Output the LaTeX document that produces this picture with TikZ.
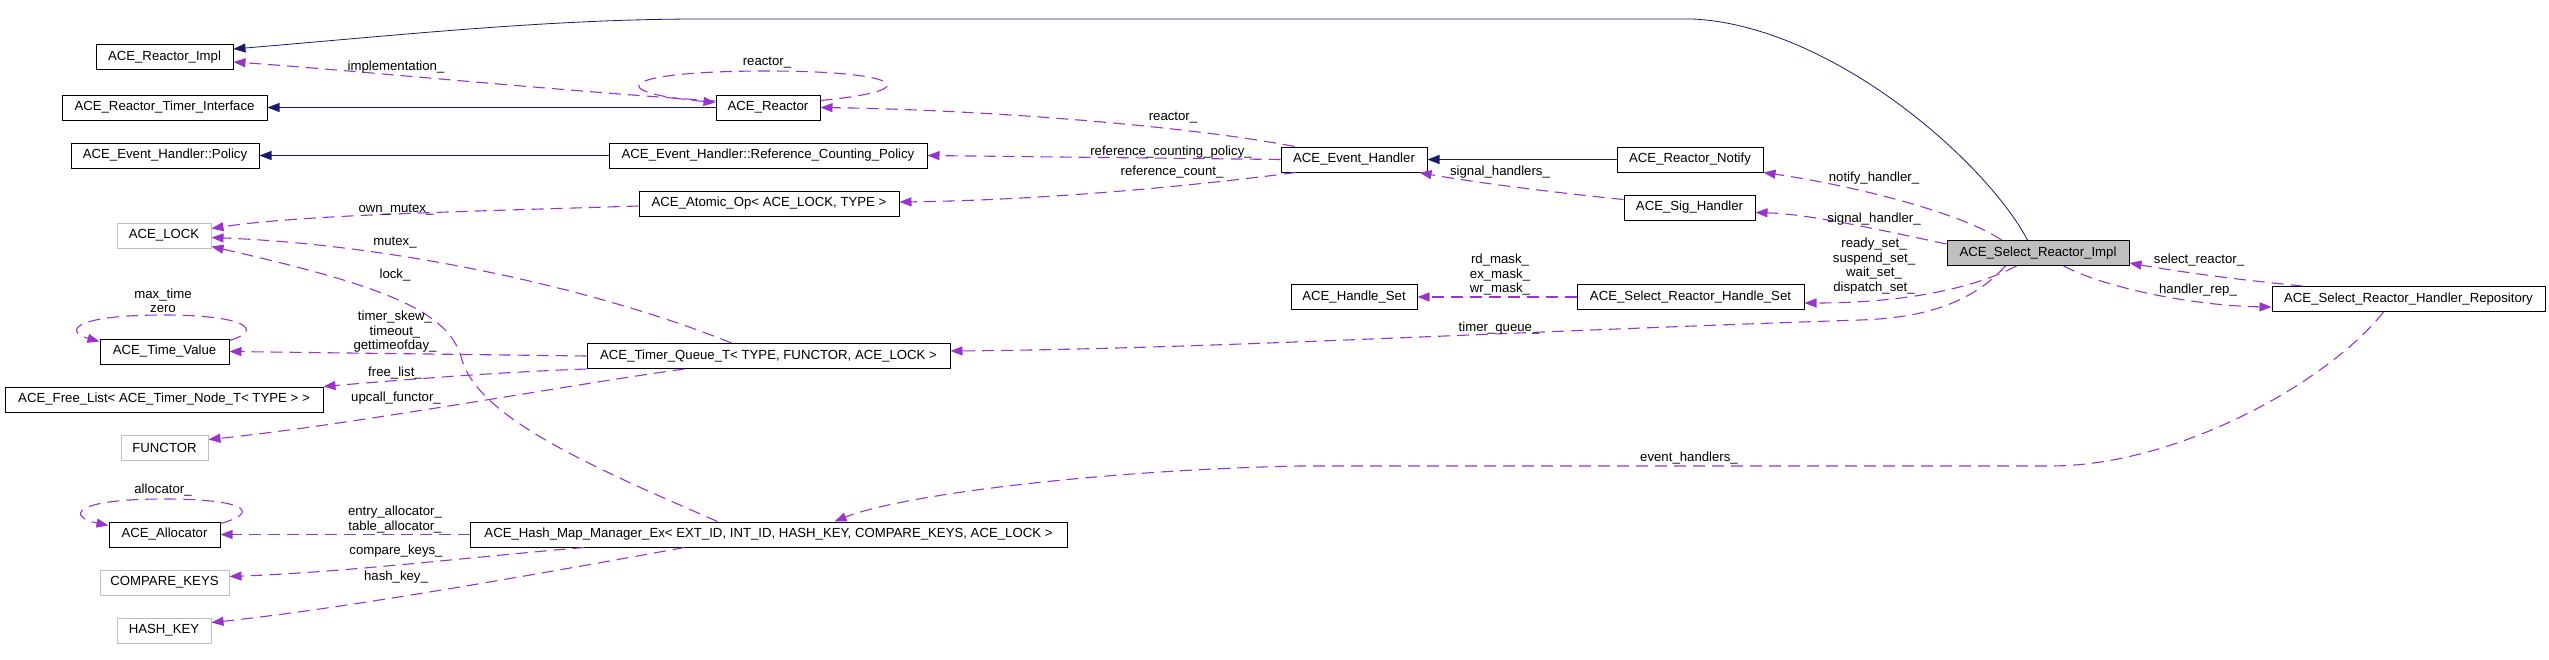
\documentclass[tikz,border=0pt]{standalone}
\usepackage{fontspec}
\setmainfont{Liberation Sans}
\usetikzlibrary{arrows.meta,calc}
\definecolor{depcol}{HTML}{9A32CD}
\definecolor{inhcol}{HTML}{191970}
\definecolor{gboxcol}{HTML}{BFBFBF}
\begin{document}
\begin{tikzpicture}[x=1pt,y=-1pt,font=\fontsize{13.2}{14.5}\selectfont,
  cls/.style={draw=black,line width=1pt,minimum height=25pt,inner sep=0pt},
  gcls/.style={cls,draw=gboxcol},
  lbl/.style={inner sep=0pt,align=center},
  depedge/.style={draw=depcol,line width=1.1pt,dash pattern=on 12pt off 7pt,-{Triangle[length=12pt,width=9pt]}},
  inhedge/.style={draw=inhcol,line width=1.1pt,-{Triangle[length=12pt,width=9pt]}}]
\useasboundingbox[fill=white] (0,0) rectangle (2549,659);
% classes
\node[cls,minimum width=137pt] (reactorimpl) at (164.5,57) {ACE\_Reactor\_Impl};
\node[cls,minimum width=205pt] (timerif) at (164.5,107.5) {ACE\_Reactor\_Timer\_Interface};
\node[cls,minimum width=188pt] (policy) at (165,155.5) {ACE\_Event\_Handler::Policy};
\node[cls,minimum width=104pt] (reactor) at (768,107.5) {ACE\_Reactor};
\node[cls,minimum width=318pt] (rcp) at (768,155.5) {ACE\_Event\_Handler::Reference\_Counting\_Policy};
\node[cls,minimum width=260pt] (atomic) at (769,203.5) {ACE\_Atomic\_Op\textless{} ACE\_LOCK, TYPE \textgreater{}};
\node[cls,minimum width=146pt] (evh) at (1354,159.5) {ACE\_Event\_Handler};
\node[cls,minimum width=146pt] (notify) at (1690,159.5) {ACE\_Reactor\_Notify};
\node[cls,minimum width=131pt] (sig) at (1689.5,207.5) {ACE\_Sig\_Handler};
\node[gcls,minimum width=94pt] (lock) at (164,235.5) {ACE\_LOCK};
\node[cls,minimum width=129pt] (timevalue) at (164.5,351.5) {ACE\_Time\_Value};
\node[cls,minimum width=363pt] (tq) at (768.5,356) {ACE\_Timer\_Queue\_T\textless{} TYPE, FUNCTOR, ACE\_LOCK \textgreater{}};
\node[cls,minimum width=318pt] (freelist) at (164,399.5) {ACE\_Free\_List\textless{} ACE\_Timer\_Node\_T\textless{} TYPE \textgreater{} \textgreater{}};
\node[gcls,minimum width=87pt] (functor) at (164.5,447.5) {FUNCTOR};
\node[cls,minimum width=111pt] (allocator) at (164.5,534.5) {ACE\_Allocator};
\node[cls,minimum width=597pt] (hashmap) at (768.5,534.5) {ACE\_Hash\_Map\_Manager\_Ex\textless{} EXT\_ID, INT\_ID, HASH\_KEY, COMPARE\_KEYS, ACE\_LOCK \textgreater{}};
\node[gcls,minimum width=129pt] (compare) at (164.5,582.5) {COMPARE\_KEYS};
\node[gcls,minimum width=94pt] (hashkey) at (164,630.5) {HASH\_KEY};
\node[cls,minimum width=126pt] (handleset) at (1354,297) {ACE\_Handle\_Set};
\node[cls,minimum width=227pt] (srhs) at (1690.5,297) {ACE\_Select\_Reactor\_Handle\_Set};
\node[cls,fill=gboxcol,minimum width=182pt] (impl) at (2038,253) {ACE\_Select\_Reactor\_Impl};
\node[cls,minimum width=273pt] (repo) at (2408.5,299) {ACE\_Select\_Reactor\_Handler\_Repository};
% inheritance
\draw[inhedge,line width=0.8pt] ($(impl.north west)+(81,0)$) .. controls (1985,160) and (1830,25) .. (1692,19) -- (700,19) .. controls (550,19) and (400,35) .. ($(reactorimpl.east)+(0,-8)$);
\draw[inhedge] (reactor.west) -- (timerif.east);
\draw[inhedge] (rcp.west) -- (policy.east);
\draw[inhedge] (notify.west) -- (evh.east);
% usage
\draw[depedge] ($(reactor.west)+(0,-6.5)$) .. controls (550,90) and (350,70) .. ($(reactorimpl.east)+(0,5)$);
\draw[depedge] ($(reactor.east)+(0,-7)$) .. controls (930,90) and (900,71) .. (767,71) .. controls (620,71) and (600,92) .. ($(reactor.west)+(0,-5)$);
\draw[depedge] ($(evh.north west)+(14,0)$) .. controls (1200,128) and (1000,110) .. (reactor.east);
\draw[depedge] (evh.west) -- (rcp.east);
\draw[depedge] ($(evh.south west)+(15,0)$) .. controls (1200,185) and (1050,200) .. ($(atomic.east)+(0,-1.5)$);
\draw[depedge] ($(atomic.west)+(0,2.5)$) .. controls (450,212) and (300,215) .. ($(lock.east)+(0,-7)$);
\draw[depedge] ($(tq.north west)+(145,0)$) .. controls (600,290) and (400,245) .. ($(lock.east)+(0,2)$);
\draw[depedge] ($(hashmap.north west)+(248,0)$) .. controls (600,470) and (480,420) .. (462,360) .. controls (450,310) and (380,285) .. ($(lock.east)+(0,11)$);
\draw[depedge] ($(timevalue.north east)+(0,2)$) .. controls (265,330) and (245,315) .. (164,315) .. controls (70,315) and (65,332) .. ($(timevalue.north west)+(0,3)$);
\draw[depedge] (tq.west) -- (timevalue.east);
\draw[depedge] (tq.south west) .. controls (500,372) and (400,380) .. (freelist.north east);
\draw[depedge] ($(tq.south west)+(98,0)$) .. controls (580,383) and (350,425) .. ($(functor.east)+(0,-8)$);
\draw[depedge] (hashmap.west) -- (allocator.east);
\draw[depedge] ($(allocator.north east)+(0,2)$) .. controls (262,512) and (245,499) .. (164,499) .. controls (70,499) and (68,517) .. ($(allocator.north west)+(0,4)$);
\draw[depedge] ($(hashmap.south west)+(115,0)$) .. controls (480,556) and (350,572) .. ($(compare.east)+(0,-6)$);
\draw[depedge] ($(hashmap.south west)+(215,0)$) .. controls (560,570) and (350,608) .. ($(hashkey.east)+(0,-8)$);
\draw[depedge] ($(repo.south west)+(112,0)$) .. controls (2330,380) and (2180,466) .. (2050,466) -- (1300,466) .. controls (1100,470) and (900,495) .. ($(hashmap.north west)+(365,0)$);
\draw[depedge] ($(impl.north west)+(55,0)$) .. controls (1960,212) and (1850,185) .. (notify.south east);
\draw[depedge] ($(impl.west)+(0,-9)$) .. controls (1880,230) and (1810,214) .. ($(sig.east)+(0,5)$);
\draw[depedge] ($(sig.north west)+(0,5)$) .. controls (1530,190) and (1460,180) .. ($(evh.south east)+(-8,0)$);
\draw[depedge] ($(impl.south west)+(70,0)$) .. controls (1960,295) and (1880,303) .. ($(srhs.east)+(0,6)$);
\draw[depedge] ($(impl.south west)+(59,0)$) .. controls (1970,305) and (1920,318) .. (1860,320) .. controls (1500,332) and (1200,349) .. ($(tq.east)+(0,-5)$);
\draw[depedge] (srhs.west) -- (handleset.east);
\draw[depedge] ($(impl.south west)+(117,0)$) .. controls (2110,290) and (2200,306) .. ($(repo.west)+(0,8)$);
\draw[depedge] ($(repo.north west)+(31,0)$) .. controls (2240,280) and (2180,272) .. ($(impl.east)+(0,10)$);
% labels
\node[lbl] (l1) at (396,67) {implementation\_};
\node[lbl] (l2) at (767,63) {reactor\_};
\node[lbl] (l3) at (1173,118) {reactor\_};
\node[lbl] (l4) at (1171,152) {reference\_counting\_policy\_};
\node[lbl] (l5) at (1172,172) {reference\_count\_};
\node[lbl] (l6) at (1500,172) {signal\_handlers\_};
\node[lbl] (l7) at (1874,178) {notify\_handler\_};
\node[lbl] (l8) at (1874,219) {signal\_handler\_};
\node[lbl] (l9) at (1874,266) {ready\_set\_\\suspend\_set\_\\wait\_set\_\\dispatch\_set\_};
\node[lbl] (l10) at (1500,275) {rd\_mask\_\\ex\_mask\_\\wr\_mask\_};
\node[lbl] (l11) at (1499,328) {timer\_queue\_};
\node[lbl] (l12) at (2199,260) {select\_reactor\_};
\node[lbl] (l13) at (2198,290) {handler\_rep\_};
\node[lbl] (l14) at (1689,458) {event\_handlers\_};
\node[lbl] (l15) at (396,210) {own\_mutex\_};
\node[lbl] (l16) at (395,243) {mutex\_};
\node[lbl] (l17) at (395,275) {lock\_};
\node[lbl] (l18) at (163,301) {max\_time\\zero};
\node[lbl] (l19) at (395,332) {timer\_skew\_\\timeout\_\\gettimeofday\_};
\node[lbl] (l20) at (395,373) {free\_list\_};
\node[lbl] (l21) at (396,398) {upcall\_functor\_};
\node[lbl] (l22) at (163,490) {allocator\_};
\node[lbl] (l23) at (395,519.5) {entry\_allocator\_\\table\_allocator\_};
\node[lbl] (l24) at (396,551) {compare\_keys\_};
\node[lbl] (l25) at (396,577) {hash\_key\_};
\end{tikzpicture}
\end{document}
